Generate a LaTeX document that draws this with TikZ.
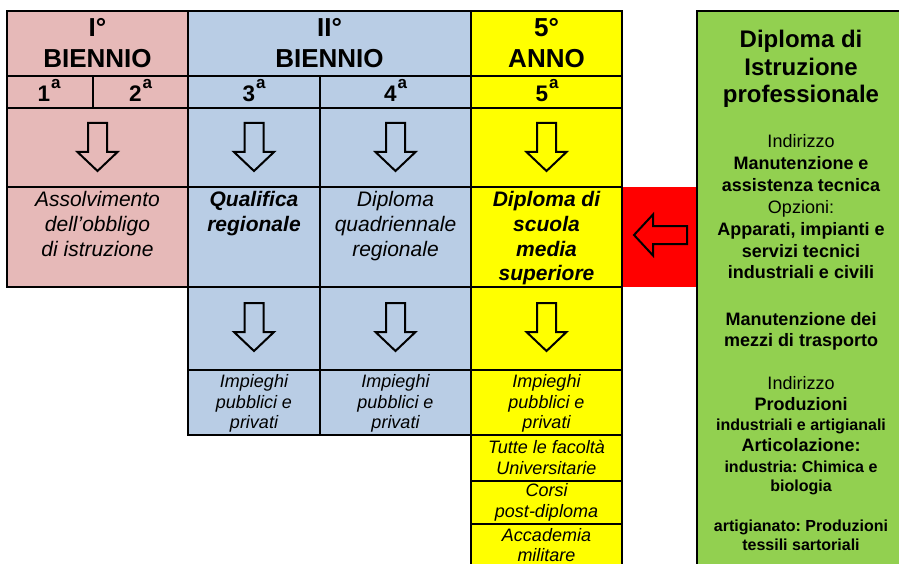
\documentclass[tikz,border=0pt]{standalone}
\usepackage{fontspec}
\setmainfont{Liberation Sans}
\frenchspacing
\definecolor{pinkc}{HTML}{E6B9B8}
\definecolor{bluec}{HTML}{B9CDE5}
\definecolor{yelc}{HTML}{FFFF00}
\definecolor{redc}{HTML}{FF0000}
\definecolor{greenc}{HTML}{92D050}
\newcommand\ordsup[1]{\kern1pt\raisebox{13.5pt}{\fontsize{17}{17}\selectfont\bfseries #1}}
\tikzset{
  grid/.style={line width=2pt, line cap=rect},
  arrline/.style={line width=2pt, line join=miter},
  txt/.style={anchor=base, inner sep=0pt},
  head/.style={txt, font=\fontsize{26}{30}\selectfont\bfseries},
  yr/.style={txt, font=\fontsize{22.5}{24}\selectfont\bfseries},
  it/.style={txt, font=\fontsize{21}{24}\selectfont\itshape},
  bit/.style={txt, font=\fontsize{21}{24}\selectfont\bfseries\itshape},
  sit/.style={txt, font=\fontsize{18}{20}\selectfont\itshape},
  gtitle/.style={txt, font=\fontsize{24}{28}\selectfont\bfseries},
  greg/.style={txt, font=\fontsize{18}{21}\selectfont},
  gbold/.style={txt, font=\fontsize{18}{21}\selectfont\bfseries},
  gsmall/.style={txt, font=\fontsize{16}{19}\selectfont\bfseries},
  downarr/.pic={\draw[arrline] (-9.5,0) -- (9.5,0) -- (9.5,29) -- (20,29) -- (0,48) -- (-20,29) -- (-9.5,29) -- cycle;},
  leftarr/.pic={\draw[arrline] (0,0) -- (19,-20.5) -- (19,-9) -- (53,-9) -- (53,9) -- (19,9) -- (19,20.5) -- cycle;}
}
\begin{document}
\begin{tikzpicture}[x=1pt,y=-1pt]
\useasboundingbox (0,0) rectangle (899,564);
\clip (0,0) rectangle (899,564);

% column backgrounds
\fill[pinkc] (7,11) rectangle (188,287);
\fill[bluec] (188,11) rectangle (471,435);
\fill[yelc] (471,11) rectangle (622,580);
\fill[redc] (622,187) rectangle (697,287);
\fill[greenc] (697,11) rectangle (910,580);

% table rules
\draw[grid] (7,11) -- (622,11);
\draw[grid] (697,11) -- (910,11);
\draw[grid] (7,76) -- (622,76);
\draw[grid] (7,108) -- (622,108);
\draw[grid] (7,187) -- (622,187);
\draw[grid] (7,287) -- (622,287);
\draw[grid] (188,370) -- (622,370);
\draw[grid] (188,435) -- (622,435);
\draw[grid] (471,481) -- (622,481);
\draw[grid] (471,524) -- (622,524);
\draw[grid] (7,11) -- (7,287);
\draw[grid] (93,76) -- (93,108);
\draw[grid] (188,11) -- (188,435);
\draw[grid] (320,76) -- (320,435);
\draw[grid] (471,11) -- (471,580);
\draw[grid] (622,11) -- (622,580);
\draw[grid] (697,11) -- (697,580);

% headers
\node[head] (h1a) at (97.5,37) {I°};
\node[head] (h1b) at (97.5,67.5) {BIENNIO};
\node[head] (h2a) at (329.5,37) {II°};
\node[head] (h2b) at (329.5,67.5) {BIENNIO};
\node[head] (h3a) at (546.5,37) {5°};
\node[head] (h3b) at (546.5,67.5) {ANNO};

% years
\node[yr] (y1) at (49,102) {1\ordsup{a}};
\node[yr] (y2) at (140.5,102) {2\ordsup{a}};
\node[yr] (y3) at (254,102) {3\ordsup{a}};
\node[yr] (y4) at (395.5,102) {4\ordsup{a}};
\node[yr] (y5) at (547,102) {5\ordsup{a}};

% arrows
\pic (a1) at (97.5,123) {downarr};
\pic (a3) at (254,123) {downarr};
\pic (a4) at (395.5,123) {downarr};
\pic (a5) at (546.5,123) {downarr};
\pic (b3) at (254,303) {downarr};
\pic (b4) at (395.5,303) {downarr};
\pic (b5) at (546.5,303) {downarr};
\pic (ar) at (634,235) {leftarr};

% outcomes
\foreach \yy/\tx [count=\i] in {207/Assolvimento, 231.5/dell’obbligo, 256/di istruzione}
  {\node[it] (pk\i) at (97.5,\yy) {\tx};}
\foreach \yy/\tx [count=\i] in {207/Qualifica, 231.5/regionale}
  {\node[bit] (q\i) at (254,\yy) {\tx};}
\foreach \yy/\tx [count=\i] in {207/Diploma, 231.5/quadriennale, 256/regionale}
  {\node[it] (dq\i) at (395.5,\yy) {\tx};}
\foreach \yy/\tx [count=\i] in {207/Diploma di, 231.5/scuola, 256/media, 280.5/superiore}
  {\node[bit] (ds\i) at (546.5,\yy) {\tx};}

\foreach \xx/\c in {254/p, 395.5/q, 546.5/r}
  \foreach \yy/\tx [count=\i] in {387.5/Impieghi, 408/pubblici e, 428.5/privati}
    {\node[sit] (im\c\i) at (\xx,\yy) {\tx};}
\foreach \yy/\tx [count=\i] in {453/Tutte le facoltà, 474.5/Universitarie, 496/Corsi, 517/post-diploma, 541/Accademia, 561/militare}
  {\node[sit] (fu\i) at (546.5,\yy) {\tx};}

% qualification box
\foreach \yy/\tx [count=\i] in {48/Diploma di, 76/Istruzione, 103/professionale}
  {\node[gtitle] (gt\i) at (801,\yy) {\tx};}
\node[greg] (g1) at (801,148) {Indirizzo};
\node[gbold] (g2) at (801,170) {Manutenzione e};
\node[gbold] (g3) at (801,192) {assistenza tecnica};
\node[greg] (g4) at (801,213) {Opzioni:};
\node[gbold] (g5) at (801,235) {Apparati, impianti e};
\node[gbold] (g6) at (801,257) {servizi tecnici};
\node[gbold] (g7) at (801,278) {industriali e civili};
\node[gbold] (g8) at (801,325) {Manutenzione dei};
\node[gbold] (g9) at (801,346) {mezzi di trasporto};
\node[greg] (g10) at (801,389) {Indirizzo};
\node[gbold] (g11) at (801,410) {Produzioni};
\node[gsmall] (g12) at (801,430) {industriali e artigianali};
\node[gbold] (g13) at (801,451) {Articolazione:};
\node[gsmall] (g14) at (801,472) {industria: Chimica e};
\node[gsmall] (g15) at (801,491) {biologia};
\node[gsmall] (g16) at (801,531) {artigianato: Produzioni};
\node[gsmall] (g17) at (801,550) {tessili sartoriali};
\end{tikzpicture}
\end{document}
